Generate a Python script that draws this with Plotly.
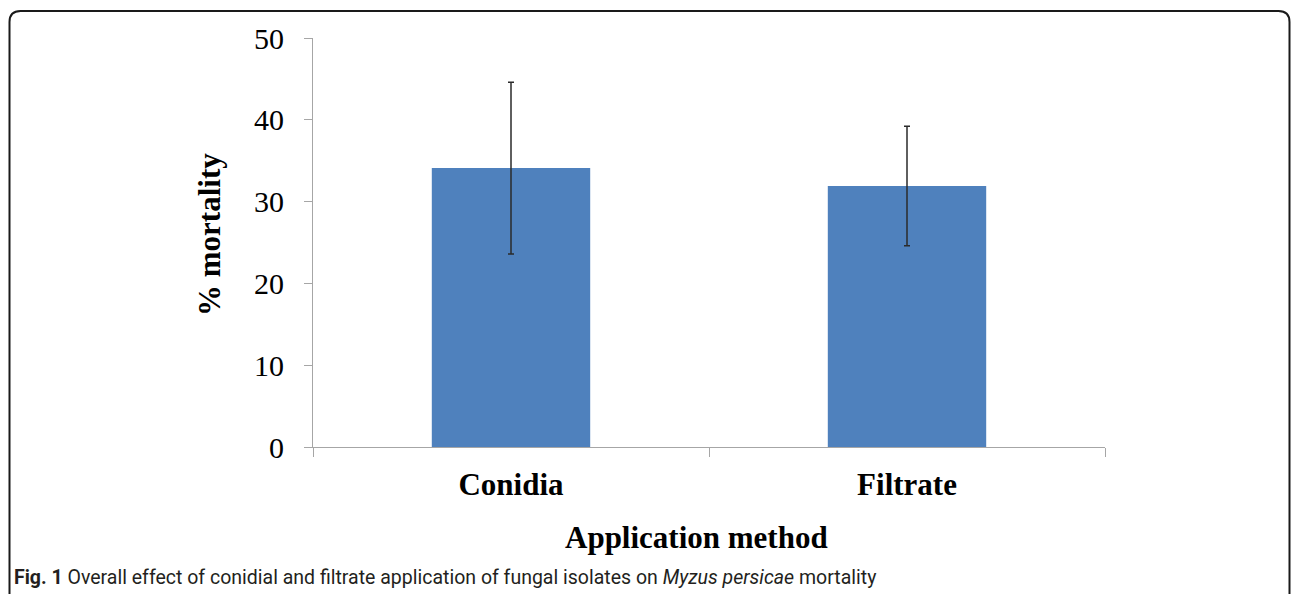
import plotly.graph_objects as go

categories = ["Conidia", "Filtrate"]
mortality = [34.1, 31.9]
error = [10.5, 7.3]
y_ticks = [0, 10, 20, 30, 40, 50]

W, H = 1292, 594
L, R, T, B = 313, 1105, 38, 447  # plot area in pixels


def px(x):
    return (x - L) / (R - L)


def py(y):
    return (B - y) / (B - T)


fig = go.Figure()
fig.add_trace(go.Bar(
    x=categories, y=mortality,
    width=0.4,
    marker=dict(color="#4F81BD", line=dict(width=0)),
    error_y=dict(type="data", array=error, visible=True,
                 color="#2b2b2b", thickness=1.5, width=3),
))

serif = "Liberation Serif, Times New Roman, serif"

# rounded border (open at bottom)
r = 11
x0, x1, y0, yb = 9.5, 1289.5, 11, 600
path = (f"M {px(x0)},{py(yb)} L {px(x0)},{py(y0 + r)} "
        f"Q {px(x0)},{py(y0)} {px(x0 + r)},{py(y0)} "
        f"L {px(x1 - r)},{py(y0)} "
        f"Q {px(x1)},{py(y0)} {px(x1)},{py(y0 + r)} "
        f"L {px(x1)},{py(yb)}")

fig.update_layout(
    width=W, height=H,
    margin=dict(l=L, r=W - R, t=T, b=H - B, pad=0),
    paper_bgcolor="white", plot_bgcolor="white",
    showlegend=False,
    bargap=0.6,
    xaxis=dict(
        type="category", showline=True, linecolor="#A6A6A6", linewidth=1,
        ticks="outside", tickson="boundaries", ticklen=9, tickcolor="#A6A6A6",
        tickfont=dict(family=serif, size=31, color="black", weight="bold"),
        ticklabelstandoff=10,
        showgrid=False, zeroline=False,
    ),
    yaxis=dict(
        range=[0, 50], tickvals=y_ticks, showline=True, linecolor="#A6A6A6",
        linewidth=1, ticks="outside", ticklen=8, tickcolor="#A6A6A6",
        tickfont=dict(family=serif, size=30, color="black"),
        ticklabelstandoff=14,
        showgrid=False, zeroline=False,
    ),
    shapes=[dict(type="path", path=path, xref="paper", yref="paper",
                 line=dict(color="#1a1a1a", width=2), layer="above")],
    annotations=[
        dict(text="% mortality", x=px(209), y=py(235), xref="paper", yref="paper",
             textangle=-90, showarrow=False, xanchor="center", yanchor="middle",
             font=dict(family=serif, size=31, color="black", weight="bold")),
        dict(text="Application method", x=px(696), y=py(537), xref="paper", yref="paper",
             showarrow=False, xanchor="center", yanchor="middle",
             font=dict(family=serif, size=31, color="black", weight="bold")),
        dict(text="<b>Fig. 1</b> Overall effect of conidial and filtrate application of fungal isolates on <i>Myzus persicae</i> mortality",
             x=px(12), y=py(577), xref="paper", yref="paper",
             showarrow=False, xanchor="left", yanchor="middle",
             font=dict(family="Roboto, Open Sans, sans-serif", size=19.5, color="#231f20")),
    ],
)

fig.write_html("out.html")
